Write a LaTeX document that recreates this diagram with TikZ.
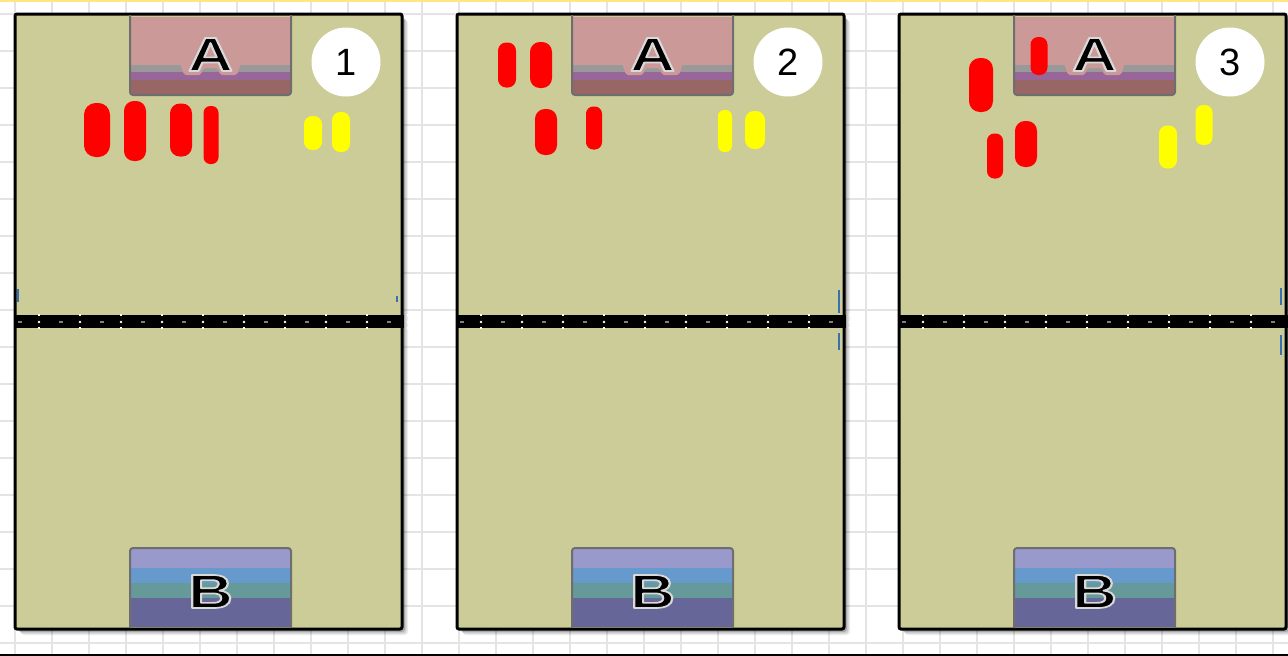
\documentclass[tikz,border=0pt]{standalone}
\usepackage{fontspec}
\setmainfont{Liberation Sans}
\definecolor{gridc}{HTML}{E4E4E4}
\definecolor{topline}{HTML}{FFE680}
\definecolor{khaki}{HTML}{CCCC99}
\definecolor{apink}{HTML}{CC9999}
\definecolor{agrey}{HTML}{999999}
\definecolor{apurple}{HTML}{996699}
\definecolor{arose}{HTML}{996666}
\definecolor{blav}{HTML}{9999CC}
\definecolor{bblue}{HTML}{6699CC}
\definecolor{bteal}{HTML}{669999}
\definecolor{bdark}{HTML}{666699}
\definecolor{boxline}{HTML}{6E6E6E}
\definecolor{tickblue}{HTML}{3A6FB0}
\definecolor{myred}{HTML}{FF0000}
\definecolor{myyellow}{HTML}{FFFF00}
\tikzset{
  blobsty/.style={draw=none, inner sep=0pt, outer sep=0pt},
  numcircle/.style={circle, fill=white, minimum size=69pt, inner sep=0pt, font=\fontsize{38}{38}\selectfont},
  panelsty/.style={draw=black, line width=3pt, fill=khaki, rounded corners=2pt},
  boxsty/.style={draw=boxline, line width=2pt, rounded corners=3pt},
  letterfont/.style={font=\bfseries\fontsize{48}{48}\selectfont, inner sep=0pt, anchor=base, text=black}
}
\newcommand\myblob[6]{\node[blobsty, fill=#6, minimum width=#4pt, minimum height=#5pt, rounded corners=0.45*#4pt] (#1) at (#2,#3) {};}
\newcommand\outlined[1]{\special{pdf:literal direct 0.85 0.85 0.85 RG 1.7 w 1 j 2 Tr}#1\special{pdf:literal direct 0 Tr 0.4 w 0 j 0 0 0 RG}}
\begin{document}
\begin{tikzpicture}[x=1pt,y=-1pt]
\useasboundingbox (0,0) rectangle (1288,656);
\fill[white] (0,0) rectangle (1288,656);
% grid
\foreach \x in {15,52,...,1288} \draw[gridc, line width=1.2pt] (\x,0) -- (\x,656);
\foreach \y in {14,51,...,656} \draw[gridc, line width=1.2pt] (0,\y) -- (1288,\y);
\fill[topline] (0,0) rectangle (1288,2);
\fill[black] (0,653.5) rectangle (1288,656);
% panels
\foreach \o/\n in {0/1,442/2,884/3}{
  \begin{scope}[xshift=\o pt]
  \foreach \s/\op in {6/0.08,4.5/0.12,3/0.18}
    \fill[black, opacity=\op, rounded corners=3pt] (15+\s,14+\s) rectangle (402+\s,629+\s);
  \draw[panelsty] (15,14) rectangle (402,629);
  % midline
  \fill[black] (13.5,315) rectangle (403.5,328);
  \foreach \k in {0,...,9}{
    \fill[white] (39+41*\k,322) circle (1.3pt);
    \fill[white] (39+41*\k-0.6,314) rectangle (39+41*\k+0.6,316);
    \fill[white] (39+41*\k-0.6,327) rectangle (39+41*\k+0.6,329);
    \fill[gray] (18+41*\k,321.3) rectangle (22+41*\k,322.7);
  }
  % box A
  \fill[apink] (130,17) rectangle (291,95);
  \fill[agrey] (130,65) rectangle (291,72);
  \fill[apurple] (130,72) rectangle (291,80);
  \fill[arose] (130,80) rectangle (291,95);
  \fill[apink, rounded corners=2pt] (180,63) -- (184,75) -- (201,75) -- (203,68) -- (218,68) -- (220,75) -- (237,75) -- (241,63) -- cycle;
  \draw[boxsty] (130,15) -- (130,95) -- (291,95) -- (291,15);
  \node[letterfont] (A\n) at (210.5,71) {\scalebox{1.3}[1]{\outlined{A}}};
  % box B
  \fill[blav] (130,548) rectangle (291,568);
  \fill[bblue] (130,568) rectangle (291,583);
  \fill[bteal] (130,583) rectangle (291,598);
  \fill[bdark] (130,598) rectangle (291,627);
  \draw[boxsty] (130,628) -- (130,548) -- (291,548) -- (291,628);
  \node[letterfont] (B\n) at (210.5,608) {\scalebox{1.3}[1]{\outlined{B}}};
  % number
  \node[numcircle] (num\n) at (346,62) {\n};
  \end{scope}
}
% blue ticks
\draw[tickblue, line width=2pt] (17.5,289) -- (17.5,302);
\draw[tickblue, line width=2pt] (397,296) -- (397,302);
\draw[tickblue, line width=2pt] (839,290) -- (839,313);
\draw[tickblue, line width=2pt] (839,333) -- (839,350);
\draw[tickblue, line width=2pt] (1281,288) -- (1281,305);
\draw[tickblue, line width=2pt] (1281,335) -- (1281,355);
% blobs panel 1
\myblob{r11}{97}{130}{26}{54}{myred}
\myblob{r12}{135}{131}{22}{60}{myred}
\myblob{r13}{181}{130}{22}{53}{myred}
\myblob{r14}{211}{135}{15}{58}{myred}
\myblob{y11}{313}{133}{18}{34}{myyellow}
\myblob{y12}{341}{132}{18}{40}{myyellow}
% blobs panel 2
\myblob{r21}{507}{65}{18}{45}{myred}
\myblob{r22}{541}{65}{22}{46}{myred}
\myblob{r23}{546}{132}{22}{46}{myred}
\myblob{r24}{594}{128}{16}{43}{myred}
\myblob{y21}{725}{131}{14}{42}{myyellow}
\myblob{y22}{755}{130}{20}{38}{myyellow}
% blobs panel 3
\myblob{r31}{1039}{56}{17}{38}{myred}
\myblob{r32}{981}{85}{24}{54}{myred}
\myblob{r33}{995}{156}{16}{45}{myred}
\myblob{r34}{1026}{144}{22}{46}{myred}
\myblob{y31}{1168}{147}{18}{43}{myyellow}
\myblob{y32}{1204}{125}{17}{40}{myyellow}
\end{tikzpicture}
\end{document}
